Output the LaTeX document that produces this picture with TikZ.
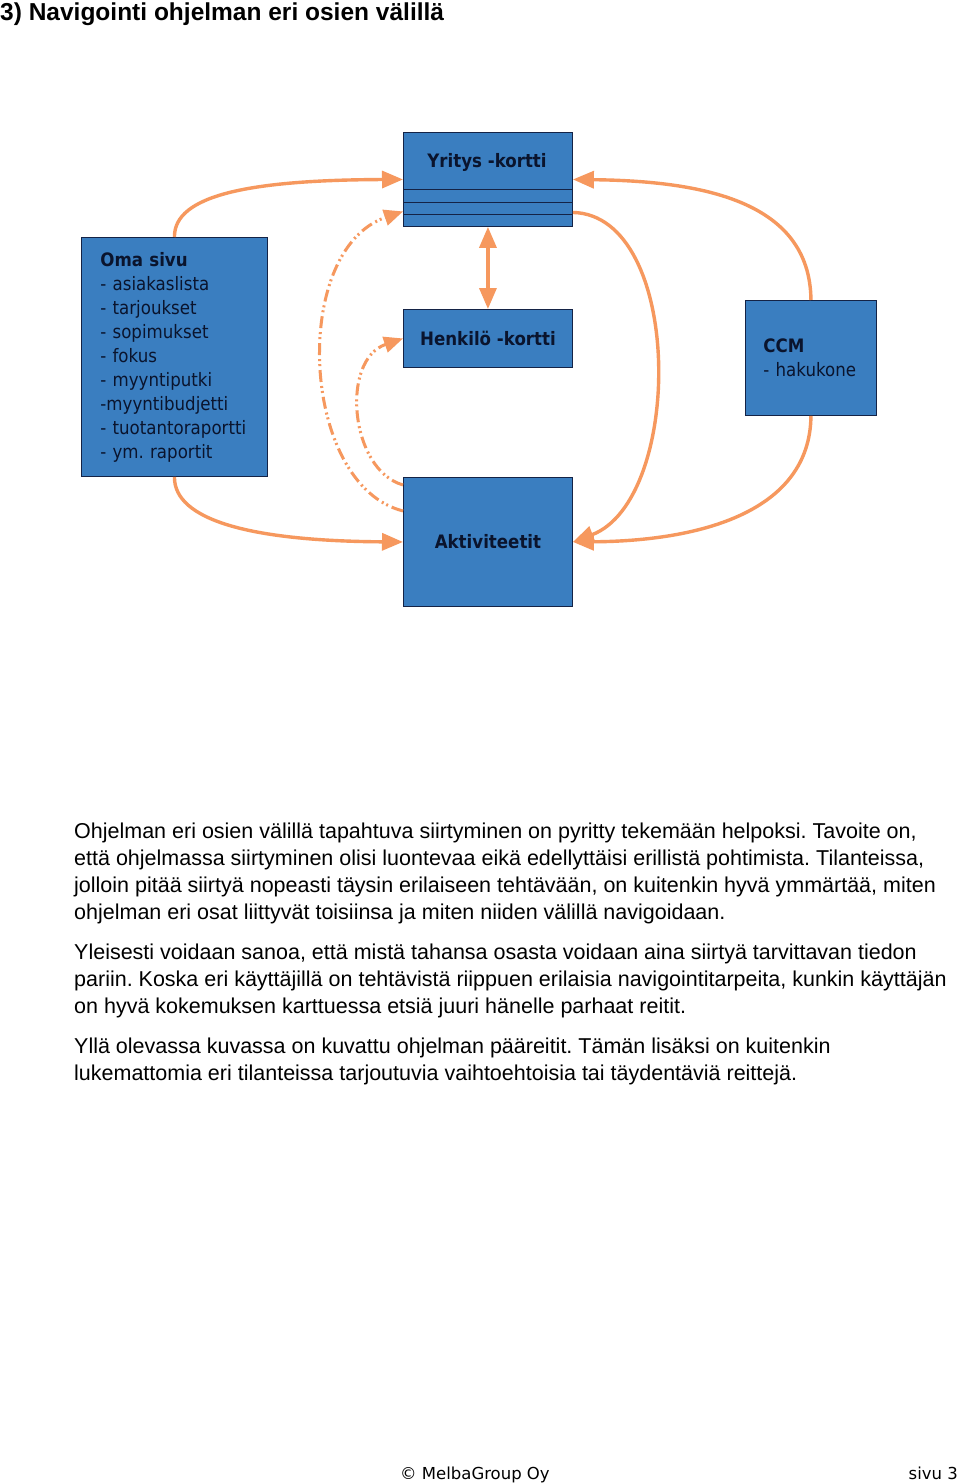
\documentclass[tikz,border=0pt]{standalone}
\usepackage{fontspec}
\setmainfont{Liberation Sans}
\newfontfamily\diagfont{DejaVu Sans}[FakeStretch=0.9]
\newfontfamily\footfont{DejaVu Sans}
\usetikzlibrary{arrows.meta,positioning,calc}
\definecolor{boxblue}{RGB}{58,126,192}
\definecolor{boxedge}{RGB}{20,35,70}
\definecolor{boxtext}{RGB}{10,20,45}
\definecolor{navorange}{RGB}{246,152,94}
\frenchspacing

\begin{document}
\begin{tikzpicture}[
        x=1pt, y=-1pt,
        font=\diagfont\fontsize{18.5}{24}\selectfont,
        card/.style={rectangle, draw=boxedge, fill=boxblue, line width=0.9pt,
                anchor=north west, inner sep=0pt, text=boxtext},
        cardtitle/.style={text=boxtext, font=\diagfont\fontsize{18.5}{24}\selectfont\bfseries},
        navarrow/.style={draw=navorange, line width=3.4pt,
                -{Triangle[length=21pt,width=17pt]}},
        altarrow/.style={draw=navorange, line width=3pt,
                dash pattern=on 12pt off 4pt on 2pt off 3pt on 2pt off 4pt,
                -{Triangle[length=19pt,width=16pt]}},
        bodyline/.style={anchor=base west, inner sep=0pt, font=\fontsize{21.5}{27}\selectfont},
    ]
    \fill[white] (0,0) rectangle (960,1483);
    \useasboundingbox (0,0) rectangle (960,1483);

    % -- heading ---------------------------------------------
    \node[anchor=base west, inner sep=0pt, font=\fontsize{24.5}{28}\selectfont\bfseries] (heading) at (0,20) {3) Navigointi ohjelman eri osien välillä};

    % -- cards -----------------------------------------------
    \node[card, minimum width=169pt, minimum height=94pt] (yritys) at (403,132) {};
    \node[cardtitle] (yrtitle) at (487,162) {Yritys -kortti};
    \foreach \ly in {189,202,214}
        \draw[boxedge, line width=0.9pt] (403,\ly) -- (572,\ly);

    \node[card, minimum width=169pt, minimum height=58pt, font=\diagfont\fontsize{18.5}{24}\selectfont\bfseries] (henkilo) at (403,309) {Henkilö -kortti};
    \node[card, minimum width=169pt, minimum height=129pt, font=\diagfont\fontsize{18.5}{24}\selectfont\bfseries] (akt) at (403,477) {Aktiviteetit};

    \node[card, minimum width=186pt, minimum height=239pt, align=left,
          text width=148pt, inner xsep=19pt] (oma) at (81,237) {%
        \textbf{Oma sivu}\\
        - asiakaslista\\
        - tarjoukset\\
        - sopimukset\\
        - fokus\\
        - myyntiputki\\
        -myyntibudjetti\\
        - tuotantoraportti\\
        - ym. raportit};

    \node[card, minimum width=131pt, minimum height=115pt, align=left,
          text width=95pt, inner xsep=18pt] (ccm) at (745,300) {%
        \textbf{CCM}\\
        - hakukone};

    % -- main routes -----------------------------------------
    \draw[navarrow] (oma.north) .. controls (174,195) and (250,180) .. (yritys.west);
    \draw[navarrow] (oma.south) .. controls (174,520) and (250,541) .. (akt.west);
    \draw[navarrow, {Triangle[length=21pt,width=17pt]}-{Triangle[length=21pt,width=17pt]}] (yritys.south) -- (henkilo.north);
    \draw[navarrow] ($(yritys.east)+(0,33)$) .. controls (684,215) and (684,500) .. (akt.east);
    \draw[navarrow] (ccm.north) .. controls (810,200) and (700,181) .. (yritys.east);
    \draw[navarrow] (ccm.south) .. controls (810,512) and (700,541) .. (akt.east);

    % -- alternative routes (dash dot) -----------------------
    \draw[altarrow] ($(akt.west)+(0,-31)$) .. controls (300,485) and (290,250) .. ($(yritys.west)+(0,32)$);
    \draw[altarrow] ($(akt.west)+(0,-57)$) .. controls (350,470) and (340,360) .. (henkilo.west);

    % -- body text -------------------------------------------
    \node[bodyline] (p1a) at (74,838) {Ohjelman eri osien välillä tapahtuva siirtyminen on pyritty tekemään helpoksi. Tavoite on,};
    \node[bodyline] (p1b) at (74,865) {että ohjelmassa siirtyminen olisi luontevaa eikä edellyttäisi erillistä pohtimista. Tilanteissa,};
    \node[bodyline] (p1c) at (74,892) {jolloin pitää siirtyä nopeasti täysin erilaiseen tehtävään, on kuitenkin hyvä ymmärtää, miten};
    \node[bodyline] (p1d) at (74,919) {ohjelman eri osat liittyvät toisiinsa ja miten niiden välillä navigoidaan.};

    \node[bodyline] (p2a) at (74,959) {Yleisesti voidaan sanoa, että mistä tahansa osasta voidaan aina siirtyä tarvittavan tiedon};
    \node[bodyline] (p2b) at (74,986) {pariin. Koska eri käyttäjillä on tehtävistä riippuen erilaisia navigointitarpeita, kunkin käyttäjän};
    \node[bodyline] (p2c) at (74,1013) {on hyvä kokemuksen karttuessa etsiä juuri hänelle parhaat reitit.};

    \node[bodyline] (p3a) at (74,1053) {Yllä olevassa kuvassa on kuvattu ohjelman pääreitit. Tämän lisäksi on kuitenkin};
    \node[bodyline] (p3b) at (74,1080) {lukemattomia eri tilanteissa tarjoutuvia vaihtoehtoisia tai täydentäviä reittejä.};

    % -- footer ----------------------------------------------
    \node[anchor=base west, inner sep=0pt, font=\footfont\fontsize{16.5}{20}\selectfont] (copy) at (400,1479) {© MelbaGroup Oy};
    \node[anchor=base east, inner sep=0pt, font=\footfont\fontsize{16.5}{20}\selectfont] (page) at (958,1479) {sivu 3};
\end{tikzpicture}
\end{document}
